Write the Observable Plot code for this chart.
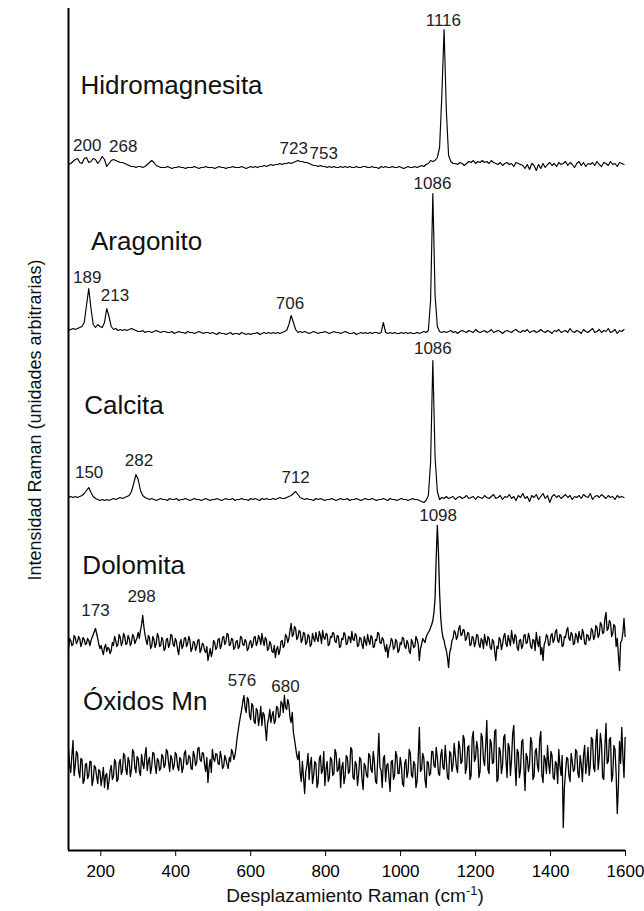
<!DOCTYPE html>
<html><head><meta charset="utf-8">
<script src="https://cdn.jsdelivr.net/npm/d3@7"></script>
<script src="https://cdn.jsdelivr.net/npm/@observablehq/plot@0.6"></script>
<style>html,body{margin:0;padding:0;background:#fff;} #chart{width:644px;height:911px;}</style>
</head><body><div id="chart"></div>
<script>
// Raman shift grid (cm-1): first sample and spacing per spectrum
const wnStart = 114;
const seriesNames = ["Hidromagnesita", "Aragonito", "Calcita", "Dolomita", "Óxidos Mn"];
const seriesOffsets = [685, 520, 353, 208, 83];
const seriesSteps = [6, 6, 6, 3, 3];

const hidromagnesita = [1,2,4,6,7,3,2,7,8,3, 4,7,6,2,5,9,6,-1,2,5, 6,5,4,3,3,2,1,0,-1,-1, -2,-1,-1,-2,-1,1,3,5,3,0, -1,-2,
 -2,-2,-1,-2,-3,-2,-2,-1,-2,-2, -3,-2,-2,-2,-1,-2,-3,-2,-2,-1, -2,-2,-2,-3,-2,-1,-2,-2,-3,-2, -2,-1,-2,-2,-2,-1,-2,-3,-2,-1, -2,-1,-2,
 -1,-1,0,-1,0,1,0,1,1,2, 1,2,2,3,2,3,4,5,4,4, 3,3,2,1,0,0,-1,0,-1,
 -1,-2,-1,-2,-1,-2,-2,-1,-2,-1, -2,-1,-2,-2,-1,-2,-2,-1,-1,-2, -2,-1,-2,-2,-3,-1,-2,-1,-2,-2, -1,-2,-2,-1,-2,-3,-2,-1,-2,-2, -1,-2,-1,0,-1,
 1,2,5,4,5,8,18,70,136,55,10,4,2,
 2,1,3,2,0,2, 4,3,5,2,4,3,5,3,4,2,5,3, 2,1,3,0,2,3,1,2,-1,3,2,1,0, -3,1,-4,2,0,-5,1,-3,2,-2, 1,3,0,2,-1,3,1,2,4,0, 3,1,-2,2,4,0,3,-1,2,1, 3,0,4,1,-1,3,2,0,4,1, 2,-1,3,2,1];

const aragonito = [0,1,2,1,2,3,4,8,25,42, 22,6,3,6,4,3,8,22,14,4, 1,2,0,1,0,1,0,1,2,1,
 0,-1,-1,0,-2,-1,-1,-2,-1,0, -1,-2,-1,-1,-2,-2,-1,-3,-2,-1, -2,-2,-3,-1,-2,-2,-3,-2,-1,-2, -3,-2,-2,-3,-2,-3,-4,-2,-3,-3, -4,-3,-2,-4,-3,-3,-4,-2,-3,-4, -3,-4,-3,-3,-2,-4,-3,-2,-3,-2, -3,
 -2,-3,-2,-3,-2,-1,0,6,15,8,1,-2,-1,-2,
 -1,-2,-3,-2,-1,-2,-3,-2,-2,-1, -2,-3,-2,-1,-2,-2,-3,-2,-1,-2, -3,-3,-2,-4,-3,-2,-3,-2,-3,-2, -3,-2,-2,-3,-2,
 8,-2,
 -3,-2,-3,-2,-3,-3,-2,-3,-2,-3,-2,-3,-3,-2,-3,-2,-1,-2,
 0,30,137,35,4,-1,
 -2,-1,-2,-1,0,-2,-1,-3,-1,0, -1,-2,0,-1,-2,1,-1,-2,-1,0, -2,-1,1,-2,-1,0,-1,-3,-1,0, -1,-2,0,1,-1,-2,0,-1,1,-2, -1,0,-2,-1,1,-1,-2,0,-1,-3, 0,-1,1,-2,-1,0,-2,2,-1,-2, 0,-1,-3,1,-1,-2,0,2,-2,-1, 1,-2,0,-1,2,-2,-1,1,-3,0, -1,1];

const calcita = [0,1,0,1,0,1,2,4,7,10, 5,1,-1,-2,-3,-2,-3,-2,-3,-2, -1,-2,-1,0,-1,0,1,2,6,14, 23,18,7,2,0,-1,
 -2,-1,-2,-3,-2,-1,-2,-2,-3,-1, -2,-2,-1,-3,-2,-2,-1,-2,-3,-2, -1,-2,-2,-3,-2,-1,-2,-3,-2,-2, -1,-2,-3,-2,-1,-2,-2,-1,-3,-2, -2,-1,-2,-2,-3,-1,-2,-1,-2,-3, -1,-2,-1,-2,-2,-1,-2,-1,0,-1, -1,0,1,
 2,4,6,3,0,-1,
 -2,-1,-2,-2,-3,-1,-2,-1,-2,-3, -2,-2,-1,-2,-3,-2,-1,-2,-2,-1, -3,-2,-2,-1,-2,-3,-2,-1,-2,-2, -1,-2,-3,-2,-2,-1,-2,-3,-1,-2, -2,-3,-2,-1,-2,-2,-3,-2,-1,-2, -2,-3,
 -4,-5,-3,2,35,137,40,6,-2,
 0,-1,1,-1,0,1,-2,0,1,-1, 0,2,-1,0,1,-2,1,0,-1,2, 0,-1,1,3,-1,0,2,-2,1,0, 3,-1,1,-3,2,0,4,-1,1,-4, 2,0,3,-2,1,4,-1,2,-5,1, 3,0,2,-1,1,3,0,2,-2,1, 0,2,-1,3,1,0,4,-2,1,2, 0,3,1,-1,2,0,1,-2,2,0, 1,0];

const dolomita = [
 -6,4, 2,-3, -2,7, 5,-1, 1,6, 4,-4, 0,5, 3,-2, -1,4, 2,-3,
 2,5, 8,11, 14,9, 4,-2, -6,-3, -8,-12, -5,-2, -9,-5, -6,-11, -8,0,
 -3,6, 2,-4, -2,8, 5,-3, 0,9, 6,-2, -1,7, 4,-3, 0,8, 6,-1,
 2,5, 10,4, 12,18, 27,16, 8,2, -2,7, 5,-6, -4,6, 3,-5, -1,9,
 6,-4, -3,5, 2,-8, -6,3, 4,-5, -2,8, 7,-2, -4,4, 1,-7, -12,-1,
 3,-6, -3,4, 5,-4, -1,6, 2,-9, -6,1, 0,-8, -4,2, 3,-10, -7,-1,
 -2,-8, -10,-4, -18,-12, -6,-14, -9,2, 0,-7, -5,3, 4,-6, -3,5, 6,-2,
 1,9, 8,-3, -2,4, 3,-7, -5,1, 2,-6, -4,6, 5,-2, -3,3, 1,-8,
 -6,0, 2,-5, -2,5, 6,-3, 0,7, 4,-2, 9,2, -3,5, 3,-8, -6,1,
 -2,-9, -10,-3, -15,-7, -4,-12, -8,1, 2,-5, -3,8, 6,0, 4,12, 19,6,
 8,16, 14,3, 5,12, 11,0, 3,10, 9,-2, 0,8, 6,-4, -2,9, 4,1,
 10,4, 1,11, 7,-1, 12,5, 3,9, 8,-3, -2,6, 5,10, 9,1, 0,7,
 6,-5, -4,4, 3,10, 8,-2, -1,6, 5,0, 11,3, 2,9, 7,-4, -3,5,
 4,-2, -6,6, 1,-3, 8,2, -2,7, 5,-5, -4,3, 2,10, 9,0, -1,5,
 3,-4, -9,-2, -15,-6, -3,4, 2,-7, -5,3, 1,-10, -8,0, -2,5, 4,-4,
 -6,2, -1,-9, -11,3, 0,-5, -4,6, 3,-2, -18,-6, -2,4, 2,0, 5,8,
 10,12, 15,18, 22,30, 45,85, 117,90, 50,25, 12,5, 2,-4, -8,-15, -25,-10,
 -6,2, 4,12, 10,3, 6,14, 17,7, 8,13, 12,2, 4,10, 9,-3, -2,6,
 5,-4, 0,8, 7,-2, -5,4, 2,-6, 8,1, -3,6, 4,-5, -7,3, 1,-9,
 -18,-4, -6,5, 3,-7, -2,6, 9,-1, -4,7, 2,-3, 12,4, -1,8, 6,-5,
 -8,2, 3,-6, -3,7, 8,-1, 0,9, 5,-4, -6,3, 2,-8, 10,1, -4,6,
 -12,-5, -18,-2, 1,8, 6,-3, -2,7, 9,0, 3,11, 13,2, 0,8, 7,-4,
 -3,6, 5,12, 15,4, 2,10, 8,-2, -1,9, 6,0, 11,5, 3,13, 9,-1,
 -2,8, 7,2, 4,14, 12,3, 6,17, 15,5, 8,20, 18,9, 10,24, 30,12,
 14,22, 20,6, 9,18, 16,-4, 4,-12, -28,0, 2,10, 24,6];

const oxidosMn = [
 18,2, -5,12, 27,-8, 2,16, 14,-4, -10,9, 8,-16, -13,3, 4,-11, -8,6,
 6,-18, -12,2, 0,-9, -16,-2, -4,-18, -10,0, -20,-8, -6,-22, -14,-3, 2,-12,
 -9,8, 5,-14, -12,4, 8,-7, -3,14, 12,-2, -7,10, 6,-9, -2,18, 15,0,
 -5,11, 9,-4, -8,13, 4,-1, 12,20, -3,6, 10,-6, 1,15, 14,2, -6,9,
 7,-3, -1,13, 11,0, 3,18, 16,5, -4,12, 9,-2, 2,15, 13,1, -3,10,
 8,-5, 0,14, 17,3, 4,12, 10,-1, -2,16, 12,2, 5,19, 20,8, 6,15,
 14,3, -4,10, -15,0, 8,-5, 18,9, 6,14, 13,4, 3,16, 10,-1, 1,12,
 8,3, -1,10, 6,18, 15,8, 12,20, 30,38, 45,52, 58,66, 72,60, 55,70,
 68,52, 48,64, 62,46, 44,59, 57,42, 50,61, 42,55, 53,40, 27,44, 49,58,
 45,52, 56,44, 47,61, 60,50, 52,66, 64,55, 72,60, 58,68, 63,50, 45,55,
 35,28, 20,12, 8,16, -5,-14, 6,-10, -26,-4, 2,14, -12,4, 10,-16, -8,6,
 4,-20, -15,8, 12,-6, -3,16, -18,-2, 6,-14, -10,10, 8,-8, -6,18, 14,-4,
 -2,9, -20,0, 5,-16, -9,12, 10,-6, -4,20, 18,-10, -12,6, 3,-18, -7,10,
 8,-12, -22,4, 1,-8, -10,14, 12,-2, -5,16, 6,-14, -16,8, 34,0, -3,-20,
 9,12, -14,2, 4,-10, -24,6, 7,-12, -8,16, 11,-6, -6,10, 2,-16, -19,4,
 8,-10, -4,18, 14,-8, -10,6, 3,-20, -14,10, 40,-4, -2,14, 9,-12, -20,6,
 5,-8, -6,16, 16,2, 0,20, 10,-6, -8,12, 18,0, -2,22, 7,-10, -12,16,
 14,-4, 3,24, 12,0, -5,26, 20,4, 6,32, 28,-6, 0,20, 22,-12, -8,30,
 36,6, 10,26, 18,-10, -4,34, 30,8, 2,22, 47,-2, -6,28, 24,4, 5,36,
 38,-14, -12,20, 16,-6, 2,30, 33,8, -10,24, 20,-8, 8,34, 42,4, -18,18,
 15,-10, -2,26, 28,0, -23,14, 10,-4, 3,30, 25,-12, -9,16, 19,2, -4,28,
 36,-8, -15,12, 8,-6, 22,4, -6,16, 12,-10, -12,6, 4,-16, 18,2, -8,12,
 -60,-20, -5,10, 9,-8, -14,14, 6,-4, -2,18, 16,-6, -10,12, 3,-14, 12,22,
 -6,4, 20,-8, 2,30, 28,0, -4,26, 38,-2, 10,34, 24,-10, -12,20, 44,4,
 6,28, 30,-14, -8,22, 18,-6, -46,-20, 26,4, 40,12, -10,30];

const seriesValues = [hidromagnesita, aragonito, calcita, dolomita, oxidosMn];

// Peak annotations
const peakText = ["1116","200","268","723","753","1086","189","213","706","1086","150","282","712","1098","173","298","576","680"];
const peakWn   = [1114, 164, 260, 715, 795, 1085, 164, 238, 705, 1086, 169, 302, 720, 1100, 186, 309, 577, 693];
const peakY    = [830, 705, 704, 702, 697, 667, 573, 555, 547, 502, 378, 390, 373, 335, 240, 254, 170, 164];

// Spectrum name labels
const nameWn = [146, 174, 156, 151, 153];
const nameY  = [757, 601, 437, 277, 141];

const xTicks = [200, 400, 600, 800, 1000, 1200, 1400, 1600];
const xDomain = [114, 1600];
const yDomain = [0, 842];

const rows = [];
seriesValues.forEach((vals, i) => {
  vals.forEach((v, k) => rows.push({series: seriesNames[i], wn: wnStart + k * seriesSteps[i], y: seriesOffsets[i] + v}));
});
const peaks = peakText.map((t, i) => ({text: t, wn: peakWn[i], y: peakY[i]}));
const names = seriesNames.map((t, i) => ({text: t, wn: nameWn[i], y: nameY[i]}));
const smoothRows = rows.filter(d => d.series !== "Dolomita" && d.series !== "Óxidos Mn");
const noisyRows = rows.filter(d => d.series === "Dolomita" || d.series === "Óxidos Mn");

const font = "'Liberation Sans', Arial, Helvetica, sans-serif";
const chart = Plot.plot({
  width: 644, height: 911,
  marginLeft: 68, marginRight: 19, marginTop: 8, marginBottom: 61,
  style: {fontFamily: font, fontSize: "17px", color: "black", background: "white", overflow: "visible"},
  x: {domain: xDomain, ticks: xTicks, tickSize: 6, tickPadding: 8, tickFormat: d => String(d), label: null},
  y: {domain: yDomain, axis: null},
  marks: [
    Plot.line(smoothRows, {x: "wn", y: "y", z: "series", stroke: "black", strokeWidth: 1.15}),
    Plot.line(noisyRows, {x: "wn", y: "y", z: "series", stroke: "black", strokeWidth: 1.3}),
    Plot.text(peaks, {x: "wn", y: "y", text: "text", fontSize: 17, textAnchor: "middle", lineAnchor: "middle", fill: "#222"}),
    Plot.text(names, {x: "wn", y: "y", text: "text", fontSize: 26, textAnchor: "start", lineAnchor: "bottom", fill: "#111"}),
    Plot.ruleX([xDomain[0]], {stroke: "black", strokeWidth: 2}),
    Plot.ruleY([yDomain[0]], {stroke: "black", strokeWidth: 2})
  ]
});
document.getElementById("chart").appendChild(chart);

const svg = d3.select(chart);
const xt = svg.append("text")
  .attr("x", 355).attr("y", 901.5)
  .attr("text-anchor", "middle")
  .attr("font-family", font).attr("font-size", 19).attr("fill", "#111");
xt.append("tspan").text("Desplazamiento Raman (cm");
xt.append("tspan").attr("dy", -7).attr("font-size", 13).text("-1");
xt.append("tspan").attr("dy", 7).text(")");

svg.append("text")
  .attr("transform", "translate(41,420) rotate(-90)")
  .attr("text-anchor", "middle")
  .attr("font-family", font).attr("font-size", 18).attr("fill", "#111")
  .text("Intensidad Raman (unidades arbitrarias)");
</script>
</body></html>
